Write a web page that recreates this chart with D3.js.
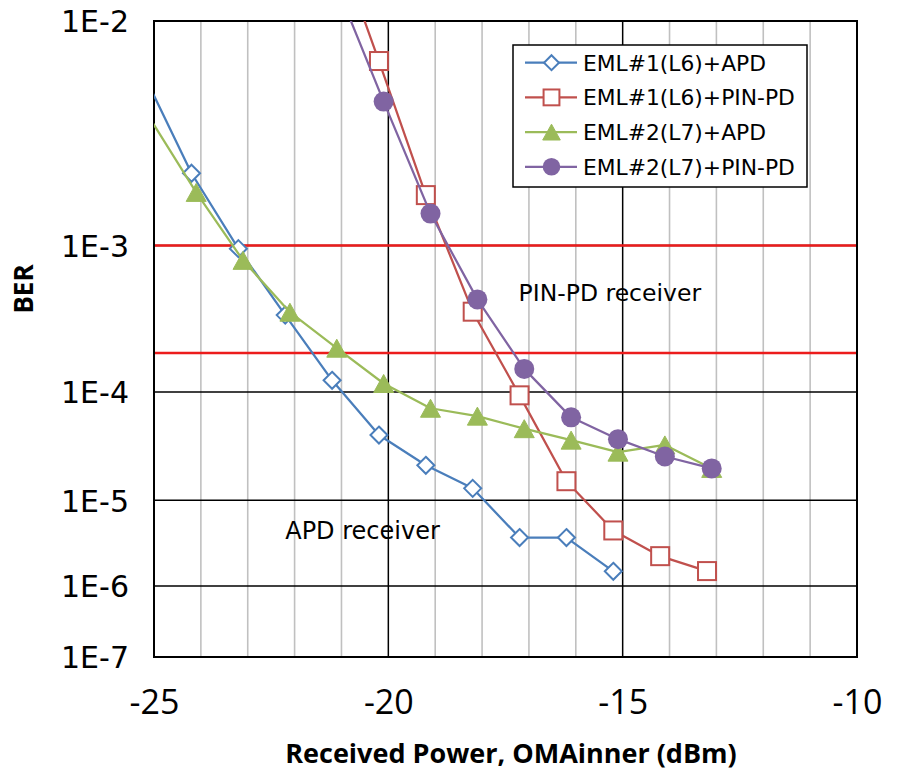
<!DOCTYPE html>
<html>
<head>
<meta charset="utf-8">
<script src="https://cdn.jsdelivr.net/npm/d3@7"></script>
<style>
  html, body { margin: 0; padding: 0; background: #ffffff; }
  svg { display: block; }
</style>
</head>
<body>
<svg id="chart" width="899" height="771"></svg>
<script>
// ---------------- data ----------------
const seriesNames = ["EML#1(L6)+APD", "EML#1(L6)+PIN-PD", "EML#2(L7)+APD", "EML#2(L7)+PIN-PD"];

const xEml1Apd = [-25.2, -24.2, -23.2, -22.2, -21.2, -20.2, -19.2, -18.2, -17.2, -16.2, -15.2];
const berEml1Apd = [6.3e-3, 2.4e-3, 9.6e-4, 3.7e-4, 1.24e-4, 4.3e-5, 2.25e-5, 1.33e-5, 3.9e-6, 3.9e-6, 1.54e-6];

const xEml1Pin = [-21.2, -20.2, -19.2, -18.2, -17.2, -16.2, -15.2, -14.2, -13.2];
const berEml1Pin = [1.9e-2, 7.2e-3, 1.87e-3, 3.9e-4, 9.4e-5, 1.57e-5, 4.7e-6, 2.36e-6, 1.55e-6];

const xEml2Apd = [-25.1, -24.1, -23.1, -22.1, -21.1, -20.1, -19.1, -18.1, -17.1, -16.1, -15.1, -14.1, -13.1];
const berEml2Apd = [4.3e-3, 1.93e-3, 8.2e-4, 3.87e-4, 2.17e-4, 1.17e-4, 7.35e-5, 6.3e-5, 4.9e-5, 3.87e-5, 3.0e-5, 3.5e-5, 2.1e-5];

const xEml2Pin = [-21.1, -20.1, -19.1, -18.1, -17.1, -16.1, -15.1, -14.1, -13.1];
const berEml2Pin = [1.3e-2, 5.0e-3, 1.5e-3, 4.7e-4, 1.52e-4, 6.15e-5, 3.95e-5, 2.73e-5, 2.1e-5];

const yTicks = [1e-2, 1e-3, 1e-4, 1e-5, 1e-6, 1e-7];
const yTickLabels = ["1E-2", "1E-3", "1E-4", "1E-5", "1E-6", "1E-7"];
const xTicks = [-25, -20, -15, -10];
const xTickLabels = ["-25", "-20", "-15", "-10"];
const thresholds = [1e-3, 2e-4];
const annotations = [
  { text: "PIN-PD receiver", x: -17.22, ber: 4.6e-4, size: 23.5 },
  { text: "APD receiver", x: -22.2, ber: 3.8e-6, size: 24 }
];
const xTitle = "Received Power, OMAinner (dBm)";
const yTitle = "BER";

// ---------------- helpers ----------------
// inverse standard normal CDF (Acklam)
function normInv(p) {
  const a = [-3.969683028665376e+01, 2.209460984245205e+02, -2.759285104469687e+02, 1.383577518672690e+02, -3.066479806614716e+01, 2.506628277459239e+00];
  const b = [-5.447609879822406e+01, 1.615858368580409e+02, -1.556989798598866e+02, 6.680131188771972e+01, -1.328068155288572e+01];
  const c = [-7.784894002430293e-03, -3.223964580411365e-01, -2.400758277161838e+00, -2.549732539343734e+00, 4.374664141464968e+00, 2.938163982698783e+00];
  const d = [7.784695709041462e-03, 3.224671290700398e-01, 2.445134137142996e+00, 3.754408661907416e+00];
  const pl = 0.02425, ph = 1 - pl;
  let q, r;
  if (p < pl) {
    q = Math.sqrt(-2 * Math.log(p));
    return (((((c[0]*q+c[1])*q+c[2])*q+c[3])*q+c[4])*q+c[5]) / ((((d[0]*q+d[1])*q+d[2])*q+d[3])*q+1);
  } else if (p <= ph) {
    q = p - 0.5; r = q * q;
    return (((((a[0]*r+a[1])*r+a[2])*r+a[3])*r+a[4])*r+a[5])*q / (((((b[0]*r+b[1])*r+b[2])*r+b[3])*r+b[4])*r+1);
  } else {
    q = Math.sqrt(-2 * Math.log(1 - p));
    return -(((((c[0]*q+c[1])*q+c[2])*q+c[3])*q+c[4])*q+c[5]) / ((((d[0]*q+d[1])*q+d[2])*q+d[3])*q+1);
  }
}
const qOf = ber => -normInv(ber);   // Q factor of a BER value

// ---------------- layout ----------------
const svg = d3.select("#chart");
const pL = 154, pR = 857, pT = 21, pB = 657;

const x = d3.scaleLinear().domain([-25, -10]).range([pL, pR]);
const qScale = d3.scaleLog().domain([qOf(1e-2), qOf(1e-7)]).range([pT, pB]);
const y = ber => qScale(qOf(ber));

const series = [
  { name: seriesNames[0], xs: xEml1Apd, ys: berEml1Apd, color: "#4a7ebb", marker: "diamond" },
  { name: seriesNames[1], xs: xEml1Pin, ys: berEml1Pin, color: "#c0504d", marker: "square" },
  { name: seriesNames[2], xs: xEml2Apd, ys: berEml2Apd, color: "#9bbb59", marker: "triangle" },
  { name: seriesNames[3], xs: xEml2Pin, ys: berEml2Pin, color: "#8064a2", marker: "circle" }
];

svg.append("defs").append("clipPath").attr("id", "plotClip")
  .append("rect").attr("x", pL).attr("y", pT).attr("width", pR - pL).attr("height", pB - pT);

// ---------------- grid ----------------
const grid = svg.append("g");
const minorX = d3.range(-24, -10).filter(v => v % 5 !== 0);
grid.append("g").selectAll("line").data(minorX).join("line")
  .attr("x1", d => x(d)).attr("x2", d => x(d)).attr("y1", pT).attr("y2", pB)
  .attr("stroke", "#c0c0c0").attr("stroke-width", 1.6);
grid.append("g").selectAll("line").data(xTicks).join("line")
  .attr("x1", d => x(d)).attr("x2", d => x(d)).attr("y1", pT).attr("y2", pB)
  .attr("stroke", "#000").attr("stroke-width", 1.5);
grid.append("g").selectAll("line").data(yTicks).join("line")
  .attr("x1", pL).attr("x2", pR).attr("y1", d => y(d)).attr("y2", d => y(d))
  .attr("stroke", "#000").attr("stroke-width", 1.5);

// threshold lines
svg.append("g").selectAll("line").data(thresholds).join("line")
  .attr("x1", pL).attr("x2", pR).attr("y1", d => y(d)).attr("y2", d => y(d))
  .attr("stroke", "#ec1c1c").attr("stroke-width", 2.4);

// plot frame
svg.append("rect").attr("x", pL).attr("y", pT).attr("width", pR - pL).attr("height", pB - pT)
  .attr("fill", "none").attr("stroke", "#000").attr("stroke-width", 2);

// ---------------- axes ----------------
const yAxis = d3.axisLeft(qScale)
  .tickValues(yTicks.map(qOf))
  .tickFormat((d, i) => yTickLabels[i])
  .tickSize(0).tickPadding(25);
const gy = svg.append("g").attr("transform", `translate(${pL},0)`).call(yAxis);
gy.select(".domain").remove();
gy.selectAll("text").attr("font-family", "'DejaVu Sans', Verdana, sans-serif")
  .attr("font-size", 30).attr("fill", "#000").attr("dy", "0.36em");

const xAxis = d3.axisBottom(x)
  .tickValues(xTicks)
  .tickFormat((d, i) => xTickLabels[i])
  .tickSize(0).tickPadding(0);
const gx = svg.append("g").attr("transform", `translate(0,${pB})`).call(xAxis);
gx.select(".domain").remove();
gx.selectAll("text").attr("font-family", "'Open Sans', sans-serif")
  .attr("font-size", 34).attr("fill", "#000").attr("y", 57).attr("dy", 0);

// axis titles
svg.append("text").attr("x", 511).attr("y", 763).attr("text-anchor", "middle")
  .attr("font-family", "'Open Sans', sans-serif").attr("font-weight", "bold").attr("font-size", 27)
  .text(xTitle);
svg.append("text").attr("transform", "translate(33,289) rotate(-90)").attr("text-anchor", "middle")
  .attr("font-family", "'Open Sans', sans-serif").attr("font-weight", "bold").attr("font-size", 26)
  .text(yTitle);

// ---------------- annotations ----------------
svg.append("g").selectAll("text").data(annotations).join("text")
  .attr("x", d => x(d.x)).attr("y", d => y(d.ber))
  .attr("font-family", "'DejaVu Sans', Verdana, sans-serif").attr("font-size", d => d.size)
  .attr("fill", "#000").text(d => d.text);

// ---------------- markers ----------------
function drawMarker(g, type, cx, cy, color, s) {
  if (type === "diamond") {
    const h = 8.5 * s;
    g.append("path").attr("d", `M${cx},${cy - h}L${cx + h},${cy}L${cx},${cy + h}L${cx - h},${cy}Z`)
      .attr("fill", "#fff").attr("stroke", color).attr("stroke-width", 2);
  } else if (type === "square") {
    const h = 9 * s;
    g.append("rect").attr("x", cx - h).attr("y", cy - h).attr("width", 2 * h).attr("height", 2 * h)
      .attr("fill", "#fff").attr("stroke", color).attr("stroke-width", 2);
  } else if (type === "triangle") {
    const w = 10 * s, h = 9 * s;
    g.append("path").attr("d", `M${cx},${cy - h}L${cx + w},${cy + h}L${cx - w},${cy + h}Z`)
      .attr("fill", color).attr("stroke", color).attr("stroke-width", 1);
  } else {
    g.append("circle").attr("cx", cx).attr("cy", cy).attr("r", 10 * s).attr("fill", color);
  }
}

// ---------------- series ----------------
const plot = svg.append("g").attr("clip-path", "url(#plotClip)");
const line = d3.line().x(d => x(d[0])).y(d => y(d[1]));
const [xmin, xmax] = x.domain();
series.forEach(s => {
  const pts = s.xs.map((v, i) => [v, s.ys[i]]);
  const g = plot.append("g");
  g.append("path").datum(pts).attr("d", line)
    .attr("fill", "none").attr("stroke", s.color).attr("stroke-width", 2.25).attr("stroke-linejoin", "round");
  pts.filter(p => p[0] >= xmin && p[0] <= xmax && p[1] <= 1e-2 && p[1] >= 1e-7)
    .forEach(p => drawMarker(g, s.marker, x(p[0]), y(p[1]), s.color, 1));
});

// ---------------- legend ----------------
const lg = svg.append("g");
lg.append("rect").attr("x", 513).attr("y", 45).attr("width", 294).attr("height", 142)
  .attr("fill", "#fff").attr("stroke", "#000").attr("stroke-width", 1.5);
series.forEach((s, i) => {
  const cy = 62.7 + i * 34.7;
  lg.append("line").attr("x1", 525).attr("x2", 577).attr("y1", cy).attr("y2", cy)
    .attr("stroke", s.color).attr("stroke-width", 2.25);
  drawMarker(lg, s.marker, 551.5, cy, s.color, 0.88);
  lg.append("text").attr("x", 583).attr("y", cy).attr("dy", "0.36em")
    .attr("font-family", "'DejaVu Sans', Verdana, sans-serif").attr("font-size", 21.8)
    .attr("fill", "#000").text(s.name);
});
</script>
</body>
</html>
